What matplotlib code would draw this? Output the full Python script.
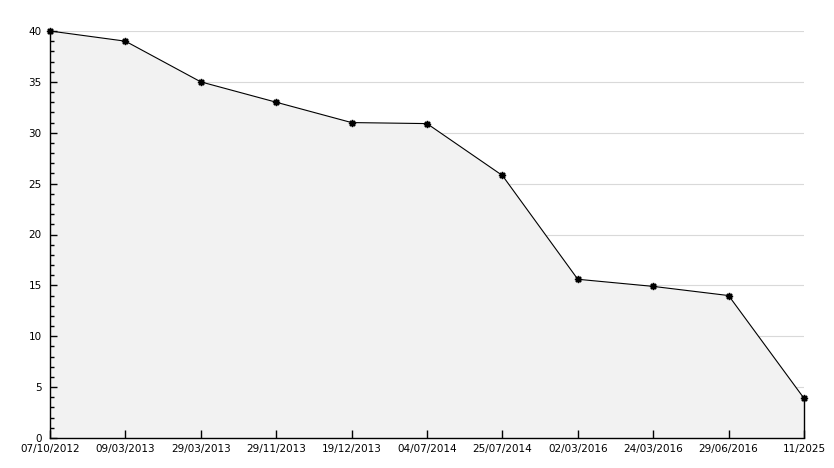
import matplotlib
matplotlib.use("Agg")
import matplotlib.pyplot as plt
from matplotlib.ticker import MultipleLocator

dates = ["07/10/2012", "09/03/2013", "29/03/2013", "29/11/2013", "19/12/2013",
         "04/07/2014", "25/07/2014", "02/03/2016", "24/03/2016", "29/06/2016", "11/2025"]
values = [40, 39, 35, 33, 31, 30.9, 25.8, 15.6, 14.9, 14.0, 3.9]
grid_levels = [5, 10, 15, 20, 25, 30, 35, 40]

fig = plt.figure(figsize=(8.34, 4.68), dpi=100)
W, H = 834, 468
ax = fig.add_axes([50 / W, (H - 438) / H, (804 - 50) / W, (438 - 31) / H])

x = list(range(len(values)))
for g in grid_levels:
    ax.axhline(g, color="#d9d9d9", lw=0.8, zorder=0)
ax.fill_between(x, values, 0, color="#f2f2f2", lw=0, zorder=1)
ax.plot(x, values, color="black", lw=0.8, marker=(8, 1, 0), ms=5, zorder=3, clip_on=False)
ax.vlines(x[-1], 0, values[-1], color="black", lw=1, zorder=3, clip_on=False)

ax.set_xlim(0, len(values) - 1)
ax.set_ylim(0, 40)
ax.set_xticks(x)
ax.set_xticklabels(dates, fontsize=7.5)
ax.yaxis.set_major_locator(MultipleLocator(5))
ax.yaxis.set_minor_locator(MultipleLocator(1))
ax.tick_params(axis="y", which="major", direction="in", length=5, width=1, labelsize=7.5, pad=6)
ax.tick_params(axis="y", which="minor", direction="in", length=3, width=1)
ax.tick_params(axis="x", which="major", direction="in", length=6, width=1, pad=4)
ax.set_axisbelow(False)
for s in ["top", "right"]:
    ax.spines[s].set_visible(False)
for s in ["left", "bottom"]:
    ax.spines[s].set_linewidth(1)

fig.savefig("out.png", dpi=100, facecolor="white")
